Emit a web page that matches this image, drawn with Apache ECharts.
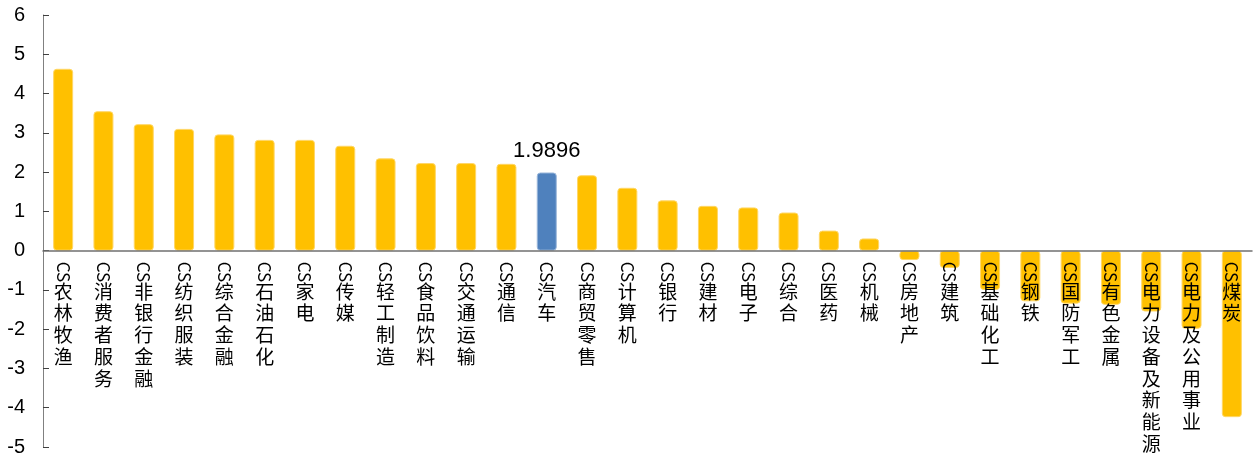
<!DOCTYPE html>
<html><head><meta charset="utf-8">
<script src="https://cdn.jsdelivr.net/npm/echarts@6/dist/echarts.min.js"></script>
<style>html,body{margin:0;padding:0;background:#fff}#c{width:1253px;height:458px}</style>
</head><body><div id="c"></div>
<script>
const categories = ['CS农林牧渔','CS消费者服务','CS非银行金融','CS纺织服装','CS综合金融','CS石油石化','CS家电','CS传媒','CS轻工制造','CS食品饮料','CS交通运输','CS通信','CS汽车','CS商贸零售','CS计算机','CS银行','CS建材','CS电子','CS综合','CS医药','CS机械','CS房地产','CS建筑','CS基础化工','CS钢铁','CS国防军工','CS有色金属','CS电力设备及新能源','CS电力及公用事业','CS煤炭'];
const values = [4.63,3.55,3.22,3.10,2.96,2.82,2.82,2.67,2.35,2.23,2.23,2.21,1.9896,1.92,1.60,1.28,1.14,1.10,0.97,0.51,0.31,-0.24,-0.44,-1.00,-1.29,-1.35,-1.38,-1.55,-1.99,-4.24];
const highlight = 'CS汽车';
const yTicks = {min: -5, max: 6, interval: 1};

const barColor = '#FFC000', barEdge = '#FFD766';
const hiColor = '#4F81BD', hiEdge = '#9BB7DA';
const gridTop = 15, gridBottom = 11, H = 458;
const plotH = H - gridTop - gridBottom;
// move the category axis up to the value-0 line of the y scale
const zeroOffset = -plotH * (0 - yTicks.min) / (yTicks.max - yTicks.min);

const seriesData = values.map((v, i) => categories[i] === highlight
  ? {value: v, itemStyle: {color: hiColor, borderColor: hiEdge},
     label: {show: true, position: 'top', distance: 11, color: '#000', fontSize: 22, fontFamily: 'Liberation Sans, Arial', formatter: String(v)}}
  : v);

const chart = echarts.init(document.getElementById('c'));
chart.setOption({
  animation: false,
  grid: {left: 43, right: 1, top: gridTop, bottom: gridBottom, containLabel: false, outerBoundsMode: 'none'},
  xAxis: [{
    type: 'category', data: categories, z: 10, position: 'bottom', offset: zeroOffset,
    axisLine: {onZero: false, lineStyle: {color: '#707070', width: 1.5}},
    axisTick: {inside: true, length: 6, lineStyle: {color: '#404040'}},
    axisLabel: {interval: 0, rotate: -90, margin: 11, fontSize: 17, color: '#000', fontFamily: 'Noto Sans CJK SC',
      formatter: s => s.slice(0, 2)}
  }, {
    type: 'category', data: categories, z: 10, position: 'bottom', offset: zeroOffset,
    axisLine: {show: false, onZero: false},
    axisTick: {show: false},
    axisLabel: {interval: 0, margin: 30, fontSize: 19, lineHeight: 21.7, color: '#000', fontFamily: 'Noto Sans CJK SC',
      formatter: s => s.slice(2).split('').join('\n')}
  }],
  yAxis: {
    type: 'value', min: yTicks.min, max: yTicks.max, interval: yTicks.interval,
    splitLine: {show: false},
    axisLine: {show: true, onZero: false, lineStyle: {color: '#808080'}},
    axisTick: {show: true, inside: true, length: 6, lineStyle: {color: '#404040'}},
    axisLabel: {fontSize: 20, color: '#000', margin: 18, fontFamily: 'Liberation Sans, Arial'}
  },
  series: [{
    type: 'bar', xAxisIndex: 0, data: seriesData, barWidth: 20,
    itemStyle: {color: barColor, borderColor: barEdge, borderWidth: 1, borderRadius: 3}
  }]
});
</script></body></html>
